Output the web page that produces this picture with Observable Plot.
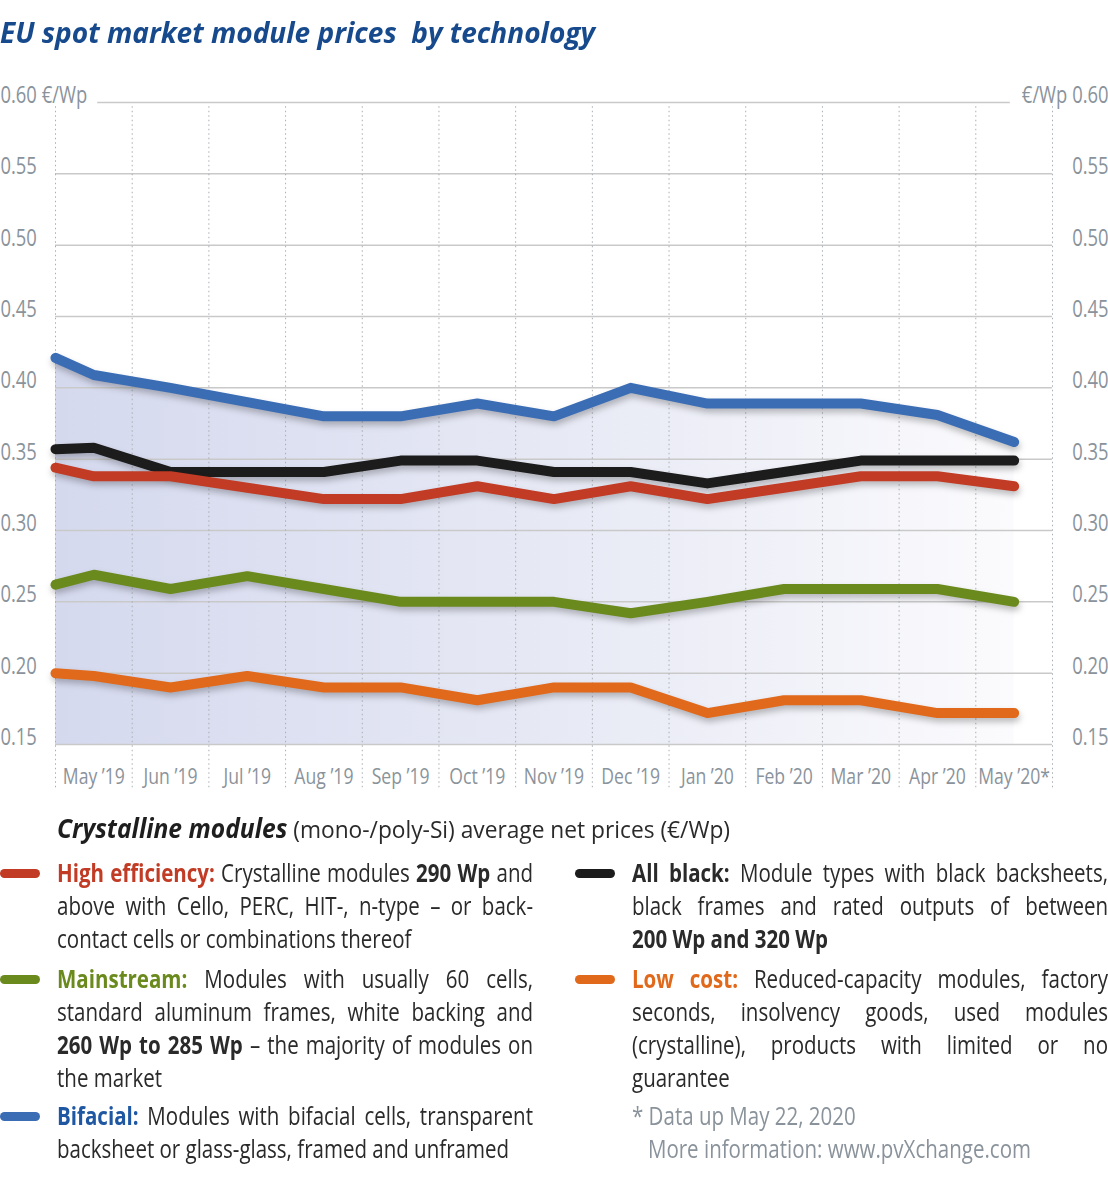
<!DOCTYPE html>
<html>
<head>
<meta charset="utf-8">
<script src="https://cdn.jsdelivr.net/npm/d3@7"></script>
<script src="https://cdn.jsdelivr.net/npm/@observablehq/plot@0.6"></script>
<style>
  html, body { margin: 0; padding: 0; background: #fff; }
  body { position: relative; width: 1108px; height: 1200px; overflow: hidden;
         font-family: "Open Sans", "Noto Sans", sans-serif; color: #2a2a2a; }
  .fit { position: absolute; white-space: pre; transform-origin: 0 50%; }
  #title { left: 0; top: 12px; font-size: 28px; font-weight: bold; font-style: italic;
           color: #174a8c; line-height: 40px; }
  #chart { position: absolute; left: 0; top: 60px; }
  #chart svg { display: block; }
  #sub { left: 57px; top: 811px; font-size: 24px; line-height: 34px; color: #2a2a2a; }
  #sub b { font-size: 26px; font-style: italic; color: #1e1e1e; }
  .blk { position: absolute; width: 476px; font-size: 25px; line-height: 33px; color: #2a2a2a; }
  .blk div { height: 33px; white-space: nowrap; transform-origin: 0 0; }
  .blk div.j { text-align: justify; text-align-last: justify; }
  .sw { position: absolute; width: 40px; height: 9px; border-radius: 5px; }
  .foot { color: #8a939b; }
</style>
</head>
<body>
<div id="title" class="fit">EU spot market module prices  by technology</div>
<div id="chart"></div>

<div id="sub" class="fit"><b>Crystalline modules</b> (mono-/poly-Si) average net prices (€/Wp)</div>

<div class="sw" style="left:0px;top:869px;background:#c13b25"></div>
<div class="blk" style="left:57px;top:856px">
  <div class="j"><b style="color:#c13b25">High efficiency:</b> Crystalline modules <b>290 Wp</b> and</div>
  <div class="j">above with Cello, PERC, HIT-, n-type – or back-</div>
  <div>contact cells or combinations thereof</div>
</div>

<div class="sw" style="left:0px;top:975px;background:#6b8a1e"></div>
<div class="blk" style="left:57px;top:962px">
  <div class="j"><b style="color:#6b8a1e">Mainstream:</b> Modules with usually 60 cells,</div>
  <div class="j">standard aluminum frames, white backing and</div>
  <div class="j"><b>260 Wp to 285 Wp</b> – the majority of modules on</div>
  <div>the market</div>
</div>

<div class="sw" style="left:0px;top:1112px;background:#3b6db5"></div>
<div class="blk" style="left:57px;top:1099px">
  <div class="j"><b style="color:#1f57a3">Bifacial:</b> Modules with bifacial cells, transparent</div>
  <div>backsheet or glass-glass, framed and unframed</div>
</div>

<div class="sw" style="left:575px;top:869px;background:#1c1c1c"></div>
<div class="blk" style="left:632px;top:856px">
  <div class="j"><b>All black:</b> Module types with black backsheets,</div>
  <div class="j">black frames and rated outputs of between</div>
  <div><b>200 Wp and 320 Wp</b></div>
</div>

<div class="sw" style="left:575px;top:975px;background:#e0691b"></div>
<div class="blk" style="left:632px;top:962px">
  <div class="j"><b style="color:#e0691b">Low cost:</b> Reduced-capacity modules, factory</div>
  <div class="j">seconds, insolvency goods, used modules</div>
  <div class="j">(crystalline), products with limited or no</div>
  <div>guarantee</div>
</div>

<div class="blk foot" style="left:632px;top:1099px">
  <div>* Data up May 22, 2020</div>
  <div>   More information: www.pvXchange.com</div>
</div>

<script>
// ---------- data ----------
const months = ["May ’19","Jun ’19","Jul ’19","Aug ’19","Sep ’19","Oct ’19","Nov ’19",
                "Dec ’19","Jan ’20","Feb ’20","Mar ’20","Apr ’20","May ’20*"];
// first value = level at the start of the period, then one value per month (€/Wp)
const highEfficiency = [0.344,0.338,0.338,0.330,0.322,0.322,0.331,0.322,0.331,0.322,0.330,0.338,0.338,0.331];
const allBlack       = [0.357,0.358,0.341,0.341,0.341,0.349,0.349,0.341,0.341,0.333,0.341,0.349,0.349,0.349];
const mainstream     = [0.262,0.269,0.259,0.268,0.259,0.250,0.250,0.250,0.242,0.250,0.259,0.259,0.259,0.250];
const bifacial       = [0.421,0.409,0.400,0.390,0.380,0.380,0.389,0.380,0.400,0.389,0.389,0.389,0.381,0.362];
const lowCost        = [0.200,0.198,0.190,0.198,0.190,0.190,0.181,0.190,0.190,0.172,0.181,0.181,0.172,0.172];
const yTicks = [0.15,0.20,0.25,0.30,0.35,0.40,0.45,0.50,0.55,0.60];

const series = [
  {name: "Low cost",        values: lowCost,        color: "#e0691b"},
  {name: "Mainstream",      values: mainstream,     color: "#6b8a1e"},
  {name: "All black",       values: allBlack,       color: "#1c1c1c"},
  {name: "High efficiency", values: highEfficiency, color: "#c13b25"},
  {name: "Bifacial",        values: bifacial,       color: "#3b6db5"}
];
const pos = i => (i === 0 ? -0.5 : i - 1);
const toRows = vals => vals.map((v, i) => ({x: pos(i), y: v}));

const FONT = '"Open Sans", "Noto Sans", sans-serif';
const GREY = "#8a939b";
const NARROW = 0.8;      // horizontal condensing of chart text (reference uses a condensed face)
const LEG_NARROW = 0.82; // same for the legend
const fmt = d3.format(".2f");

const chart = Plot.plot({
  width: 1108, height: 745,
  marginLeft: 55, marginRight: 56, marginTop: 42, marginBottom: 61,
  x: {domain: [-0.5, 12.5], axis: null},
  y: {domain: [0.15, 0.60], axis: null},
  style: {fontFamily: FONT, fontSize: "22px", background: "transparent", overflow: "visible"},
  marks: [
    Plot.areaY(toRows(bifacial), {x: "x", y1: 0.15, y2: "y", fill: "url(#bgfade)"}),
    Plot.ruleY(yTicks.filter(d => d < 0.6), {stroke: "#c9c9c9", strokeWidth: 1.5}),
    Plot.ruleY([0.60], {x1: 0.05, x2: 11.95, stroke: "#c9c9c9", strokeWidth: 1.5}),
    Plot.ruleX(d3.range(-0.5, 13, 1), {y1: 0.597, y2: 0.118, stroke: "#a9aeb3", strokeWidth: 1, strokeDasharray: "1.5,3"}),
    ...series.map(s => Plot.lineY(toRows(s.values), {
      x: "x", y: "y", stroke: s.color, strokeWidth: 10,
      strokeLinecap: "round", strokeLinejoin: "round"
    })),
    Plot.text(yTicks, {x: -0.5, y: d => d, dx: -55, dy: -7, textAnchor: "start", fill: GREY, fontSize: 23,
      text: d => d === 0.6 ? fmt(d) + " €/Wp" : fmt(d)}),
    Plot.text(yTicks, {x: 12.5, y: d => d, dx: 56, dy: -7, textAnchor: "end", fill: GREY, fontSize: 23,
      text: d => d === 0.6 ? "€/Wp " + fmt(d) : fmt(d)}),
    Plot.text(months, {x: (d, i) => i, y: 0.15, dy: 32, text: d => d, fill: GREY})
  ]
});

const svg = d3.select(chart);
const grad = svg.insert("defs", ":first-child").append("linearGradient")
  .attr("id", "bgfade").attr("x1", 0).attr("x2", 1).attr("y1", 0).attr("y2", 0);
grad.append("stop").attr("offset", "0%").attr("stop-color", "#d5d9ee");
grad.append("stop").attr("offset", "55%").attr("stop-color", "#e8eaf5");
grad.append("stop").attr("offset", "100%").attr("stop-color", "#fbfbfd");
svg.selectAll('g[aria-label="line"]').style("filter", "drop-shadow(1px 4px 3px rgba(0,0,0,0.25))");
// condense tick label text horizontally around its anchor
svg.selectAll('g[aria-label="text"] text').each(function() {
  const t = this.getAttribute("transform") || "";
  this.setAttribute("transform", t + ` scale(${NARROW},1)`);
});

document.getElementById("chart").appendChild(chart);

// fit title / subtitle to their widths in the reference
function fitTo(id, w) {
  const el = document.getElementById(id);
  el.style.transform = "none";
  const nat = el.getBoundingClientRect().width;
  el.style.transform = `scaleX(${w / nat})`;
}
// legend lines: condensed, justified to the column width (never wrapping)
function fitLegend() {
  document.querySelectorAll(".blk div").forEach(el => {
    if (el.parentNode.classList.contains("foot")) el.style.whiteSpace = "pre";
    el.style.transform = "none";
    el.style.width = "auto";
    el.style.display = "inline-block";
    const nat = el.getBoundingClientRect().width;
    el.style.display = "block";
    const k = Math.min(LEG_NARROW, 476 / (nat + 2));
    el.style.width = (476 / k) + "px";
    el.style.transform = `scaleX(${k})`;
  });
}
function fitAll() { fitTo("title", 595); fitTo("sub", 673); fitLegend(); }
fitAll();
if (document.fonts && document.fonts.ready) document.fonts.ready.then(fitAll);
</script>
</body>
</html>
